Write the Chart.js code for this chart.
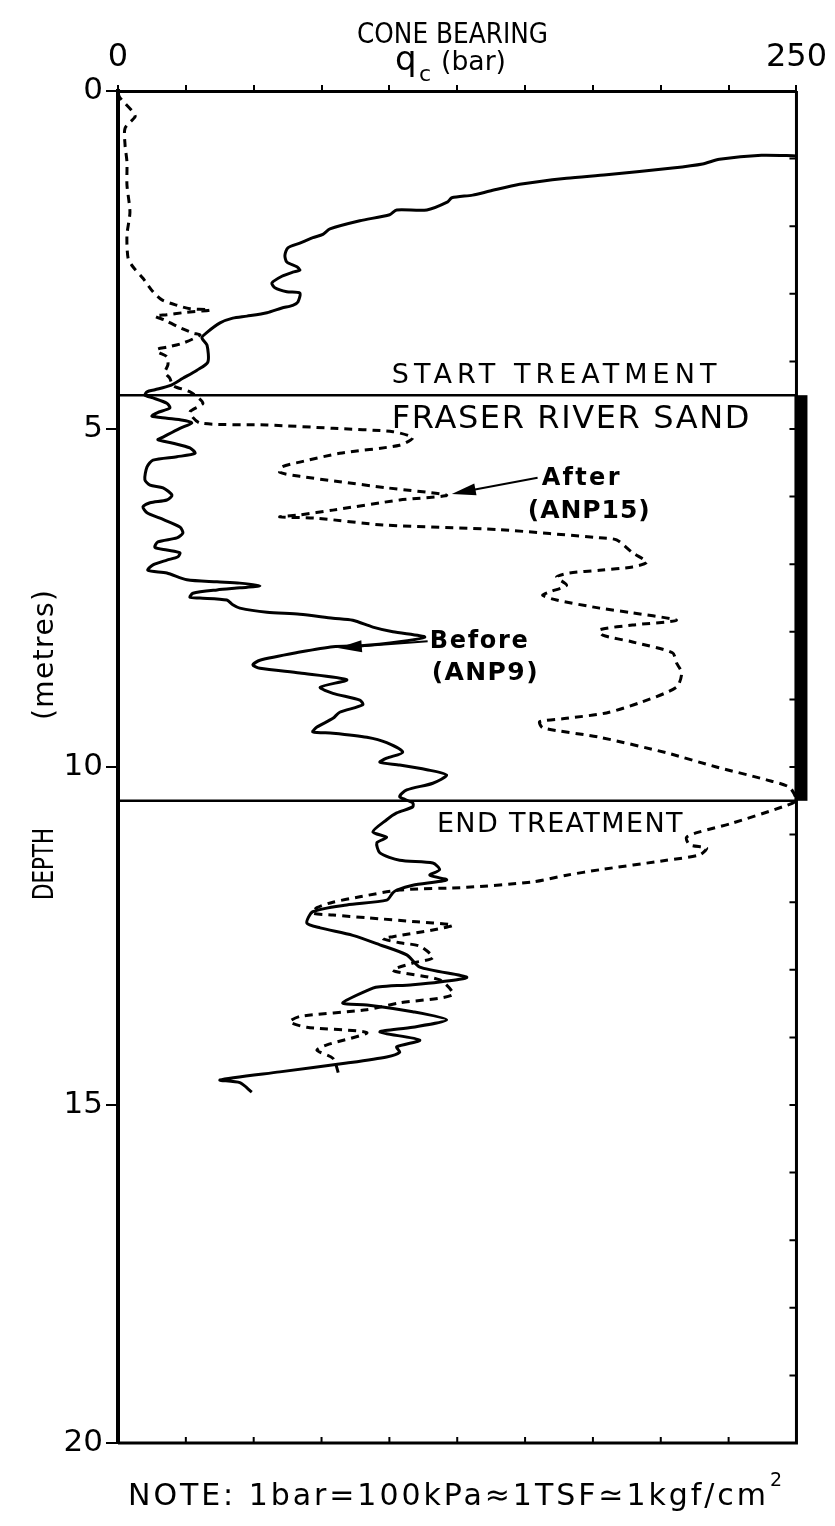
<!DOCTYPE html>
<html>
<head>
<title>Cone bearing</title>
<script src="https://cdn.jsdelivr.net/npm/chart.js"></script>
<style>
  body { margin: 0; background: #fff; }
  #wrap { width: 835px; height: 1526px; position: relative; }
</style>
</head>
<body>
<div id="wrap"><canvas id="chart"></canvas></div>
<script>
// q_c in bar, depth in metres
var beforeDepth = [0.96,0.95,1.01,1.08,1.14,1.24,1.29,1.38,1.48,1.54,1.58,1.64,1.76,1.76,1.83,1.92,2.04,2.12,2.17,2.25,
  2.32,2.43,2.53,2.60,2.65,2.68,2.74,2.84,2.91,2.97,2.99,3.12,3.17,3.21,3.28,3.33,3.36,3.43,3.57,3.65,
  3.76,4.01,4.13,4.25,4.36,4.42,4.45,4.50,
  4.54,4.62,4.69,4.76,4.81,4.84,4.87,4.91,4.99,5.12,5.16,5.21,5.28,5.36,5.41,5.46,5.56,5.75,5.83,5.87,
  5.98,6.05,6.09,6.15,6.24,6.32,6.45,6.54,6.61,6.67,6.75,6.79,6.83,6.89,6.94,7.01,7.09,7.13,7.23,7.26,
  7.28,7.32,7.35,7.38,7.43,7.49,7.50,7.53,7.60,7.65,7.71,7.74,7.80,7.83,7.93,8.00,8.08,8.20,8.22,8.30,
  8.42,8.49,8.54,8.61,8.71,8.82,8.91,9.01,9.08,9.19,9.28,9.41,9.48,9.50,9.56,9.64,9.78,9.87,9.93,9.97,
  10.04,10.12,10.24,10.34,10.44,10.53,10.59,10.68,10.78,10.96,11.04,11.12,11.27,11.38,11.42,11.52,11.60,11.67,11.75,11.82,
  11.86,11.97,12.04,12.14,12.31,12.38,12.49,12.63,12.78,12.96,13.11,13.18,13.22,13.25,13.27,13.49,13.52,13.62,13.74,13.85,
  13.92,14.04,14.14,14.22,14.29,14.38,14.51,14.63,14.67,14.81];
var beforeQc = [250,237.1,221.6,215.4,204.3,180,165.3,148,137,130.7,123,121.5,113.8,102.7,100.1,89.1,78.1,75.5,71.8,67.0,
  62.6,61.5,62.2,65.9,67.0,64.4,60.4,56.7,57.8,62.2,67.0,66.3,64.4,60.4,54.9,47.5,42.3,37.6,32.8,30.9,
  32.8,33.1,29.1,23.9,19.1,13.6,10.7,9.9,
  12.9,18.0,19.1,14.4,12.5,18.0,23.9,27.2,22.8,16.6,14.7,20.3,26.5,28.4,21.7,12.9,10.7,9.9,11.8,16.6,
  19.9,18.0,11.8,9.2,10.7,15.5,22.8,23.9,21.7,14.7,13.6,18.0,22.8,22.1,18.0,12.9,11.0,18.0,25.4,36.5,
  44.9,52.3,44.9,36.5,27.6,26.5,30.2,40.1,42.3,44.9,54.9,67.0,79.2,86.5,93.9,101.3,113.0,91.7,79.2,67.0,
  52.3,49.7,52.3,67.0,84.3,74.5,79.2,89.1,90.2,81.7,79.2,73.3,71.8,79.2,91.7,99.0,104.9,99.0,96.5,103.8,
  113.8,121.1,116.0,106.4,103.8,108.6,108.6,102.7,99.0,93.9,99.0,95.4,96.5,103.8,116.0,118.5,114.9,121.1,108.6,102.7,
  101.3,99.0,84.3,71.8,69.6,74.5,86.5,96.5,106.4,111.2,128.5,118.5,108.6,96.5,93.9,82.8,91.7,108.6,121.1,108.6,
  96.5,111.2,102.7,103.8,99.0,84.3,59.6,37.6,44.9,49.3];

var afterDepth = [0.03,0.10,0.31,0.38,0.55,0.80,1.05,1.39,1.79,2.13,2.47,2.60,2.77,2.97,3.09,3.17,3.22,3.24,3.28,3.31,
  3.33,3.39,3.48,3.58,3.61,3.73,3.79,3.82,3.86,3.93,4.05,4.16,4.25,4.36,4.45,4.62,4.75,4.91,4.94,4.99,
  5.04,5.13,5.24,5.36,5.49,5.56,5.64,5.70,5.78,5.87,5.98,6.05,6.20,6.27,6.30,6.32,6.42,6.49,6.61,6.64,
  6.83,6.97,7.04,7.09,7.13,7.19,7.31,7.41,7.46,7.53,7.65,7.72,7.83,7.90,7.97,8.05,8.15,8.31,8.46,8.61,
  8.82,9.05,9.20,9.28,9.33,9.42,9.56,9.79,10.00,10.19,10.30,10.49,10.59,10.83,10.96,11.04,11.15,11.20,11.30,11.38,
  11.52,11.60,11.70,11.78,11.82,11.92,12.00,12.08,12.16,12.19,12.23,12.29,12.34,12.41,12.51,12.54,12.60,12.65,12.82,12.90,
  13.01,13.15,13.37,13.49,13.59,13.69,13.77,13.85,13.93,14.11,14.19,14.31,14.60];
var afterQc = [0,0.7,5.5,6.3,2.6,2.6,3.3,3.3,4.4,3.3,3.7,5.5,9.2,12.9,16.2,21.7,26.5,33.9,23.9,18.0,
  13.6,17.3,21.7,27.6,30.2,23.9,18.0,14.4,14.7,18.0,18.4,17.3,19.1,20.3,26.5,31.3,26.5,30.2,54.9,79.2,
  101.3,108.6,103.8,81.7,67.0,60.4,59.6,67.0,81.7,99.0,121.1,103.8,79.2,67.0,59.6,73.3,97.6,140.6,177.5,183.7,
  189.6,194.8,189.6,177.5,166.4,161.6,165.3,159.1,156.5,161.6,177.5,189.6,205.8,189.6,177.5,178.6,189.6,204.3,205.8,207.7,
  205.8,192.2,180.0,165.3,155.4,156.5,177.5,202.1,220.5,239.0,247.4,250,244.8,226.4,214.3,209.5,210.6,216.9,214.3,202.1,
  177.5,165.3,152.8,128.5,103.8,89.1,79.2,73.3,71.8,79.2,91.7,110.1,123.3,116.0,101.3,97.6,103.8,111.2,116.0,108.6,
  101.3,118.6,123.3,103.8,91.7,67.0,63.3,69.6,91.7,77.0,73.3,79.2,81.7];

var treatmentDepths = [4.5, 10.5];
var qcLabels = [0, 250];

var FONT = '"DejaVu Sans", sans-serif';

function toPoints(qs, ds) {
  return qs.map(function (q, i) { return { x: q, y: ds[i] }; });
}

// fit text to a width: spread letters if short, squeeze glyphs if long
function fitText(ctx, str, x, y, w, font) {
  ctx.font = font;
  ctx.letterSpacing = '0px';
  var m = ctx.measureText(str).width;
  if (m > w) {
    ctx.save();
    ctx.translate(x, y);
    ctx.scale(w / m, 1);
    ctx.fillText(str, 0, 0);
    ctx.restore();
  } else {
    var ls = str.length > 1 ? (w - m) / (str.length - 1) : 0;
    ctx.letterSpacing = ls + 'px';
    ctx.fillText(str, x, y);
    ctx.letterSpacing = '0px';
  }
}

function arrow(ctx, x0, y0, x1, y1) {
  var ang = Math.atan2(y1 - y0, x1 - x0), len = 24, half = 6;
  var c = Math.cos(ang), s = Math.sin(ang);
  ctx.lineWidth = 2;
  ctx.beginPath();
  ctx.moveTo(x0, y0);
  ctx.lineTo(x1 - c * len * 0.7, y1 - s * len * 0.7);
  ctx.stroke();
  ctx.beginPath();
  ctx.moveTo(x1, y1);
  ctx.lineTo(x1 - len * c + half * s, y1 - len * s - half * c);
  ctx.lineTo(x1 - len * c - half * s, y1 - len * s + half * c);
  ctx.closePath();
  ctx.fill();
}

var overlay = {
  id: 'overlay',
  afterDraw: function (chart) {
    var ctx = chart.ctx, a = chart.chartArea, x = chart.scales.x, y = chart.scales.y;
    ctx.save();
    ctx.strokeStyle = '#000';
    ctx.fillStyle = '#000';

    // right + bottom frame
    ctx.lineWidth = 3;
    ctx.beginPath();
    ctx.moveTo(a.right, a.top);
    ctx.lineTo(a.right, a.bottom);
    ctx.lineTo(a.left, a.bottom);
    ctx.stroke();

    // small inward ticks
    ctx.lineWidth = 2;
    ctx.beginPath();
    for (var d = 1; d < 20; d++) {
      var py = y.getPixelForValue(d);
      ctx.moveTo(a.right, py); ctx.lineTo(a.right - 7, py);
    }
    for (var q = 25; q < 250; q += 25) {
      var px = x.getPixelForValue(q);
      ctx.moveTo(px, a.bottom); ctx.lineTo(px, a.bottom - 6);
    }
    ctx.stroke();

    // treatment zone
    var y1 = y.getPixelForValue(treatmentDepths[0]);
    var y2 = y.getPixelForValue(treatmentDepths[1]);
    ctx.lineWidth = 2.5;
    ctx.beginPath();
    ctx.moveTo(a.left, y1); ctx.lineTo(a.right, y1);
    ctx.moveTo(a.left, y2); ctx.lineTo(a.right, y2);
    ctx.stroke();
    ctx.fillRect(a.right - 2, y1, 13, y2 - y1);

    // labels inside the plot
    ctx.textBaseline = 'alphabetic';
    ctx.textAlign = 'left';
    function X(v) { return x.getPixelForValue(v); }
    function Y(v) { return y.getPixelForValue(v); }
    fitText(ctx, 'START TREATMENT', X(100.9), Y(4.32), X(220.5) - X(100.9), '27px ' + FONT);
    fitText(ctx, 'FRASER RIVER SAND', X(100.9), Y(4.99), X(232.7) - X(100.9), '32px ' + FONT);
    fitText(ctx, 'After', X(156.1), Y(5.83), X(184.8) - X(156.1), 'bold 24px ' + FONT);
    fitText(ctx, '(ANP15)', X(151.0), Y(6.32), X(195.9) - X(151.0), 'bold 25px ' + FONT);
    fitText(ctx, 'Before', X(114.9), Y(8.24), X(151.0) - X(114.9), 'bold 24px ' + FONT);
    fitText(ctx, '(ANP9)', X(115.6), Y(8.71), X(154.6) - X(115.6), 'bold 25px ' + FONT);
    fitText(ctx, 'END TREATMENT', X(117.5), Y(10.96), X(208.0) - X(117.5), '27px ' + FONT);

    arrow(ctx, X(154.6), Y(5.72), X(123.0), Y(5.96));
    arrow(ctx, X(114.1), Y(8.14), X(81.0), Y(8.24));

    // axis titles
    fitText(ctx, 'CONE BEARING', 357, 43, 191, '28px ' + FONT);
    ctx.font = '34px ' + FONT;
    ctx.fillText('q', 395, 70);
    ctx.font = '22px ' + FONT;
    ctx.fillText('c', 419, 81);
    fitText(ctx, '(bar)', 441, 70, 65, '27px ' + FONT);

    ctx.save();
    ctx.translate(53, 900);
    ctx.rotate(-Math.PI / 2);
    fitText(ctx, 'DEPTH', 0, 0, 72, '28px ' + FONT);
    fitText(ctx, '(metres)', 180, 0, 130, '28px ' + FONT);
    ctx.restore();

    // footnote
    fitText(ctx, 'NOTE: 1bar=100kPa\u22481TSF\u22431kgf/cm', 128, 1505, 638, '30px ' + FONT);
    ctx.font = '19px ' + FONT;
    ctx.fillText('2', 770, 1486);

    ctx.restore();
  }
};

new Chart(document.getElementById('chart'), {
  type: 'scatter',
  data: {
    datasets: [{
      label: 'Before (ANP9)',
      data: toPoints(beforeQc, beforeDepth),
      showLine: true,
      borderColor: '#000',
      borderWidth: 3,
      pointRadius: 0,
      tension: 0.25
    }, {
      label: 'After (ANP15)',
      data: toPoints(afterQc, afterDepth),
      showLine: true,
      borderColor: '#000',
      borderWidth: 3,
      borderDash: [8, 6],
      pointRadius: 0,
      tension: 0.25
    }]
  },
  options: {
    responsive: true,
    maintainAspectRatio: false,
    animation: false,
    layout: { padding: { top: 0, right: 38, bottom: 83, left: 0 } },
    plugins: {
      legend: { display: false },
      tooltip: { enabled: false }
    },
    scales: {
      x: {
        type: 'linear',
        position: 'top',
        min: 0,
        max: 250,
        ticks: {
          stepSize: 25,
          autoSkip: false,
          maxRotation: 0,
          color: '#000',
          padding: 8,
          font: { family: FONT, size: 32 },
          callback: function (v) { return qcLabels.indexOf(v) >= 0 ? String(v) : ''; }
        },
        grid: { drawOnChartArea: false, color: '#000', lineWidth: 2, tickLength: 6 },
        border: { color: '#000', width: 3 },
        afterFit: function (s) { s.height = 91; }
      },
      y: {
        type: 'linear',
        position: 'left',
        reverse: true,
        min: 0,
        max: 20,
        ticks: {
          stepSize: 5,
          color: '#000',
          padding: 3,
          font: { family: FONT, size: 31 }
        },
        grid: { drawOnChartArea: false, color: '#000', lineWidth: 2, tickLength: 12 },
        border: { color: '#000', width: 4 },
        afterFit: function (s) { s.width = 118; }
      }
    }
  },
  plugins: [overlay]
});
</script>
</body>
</html>
